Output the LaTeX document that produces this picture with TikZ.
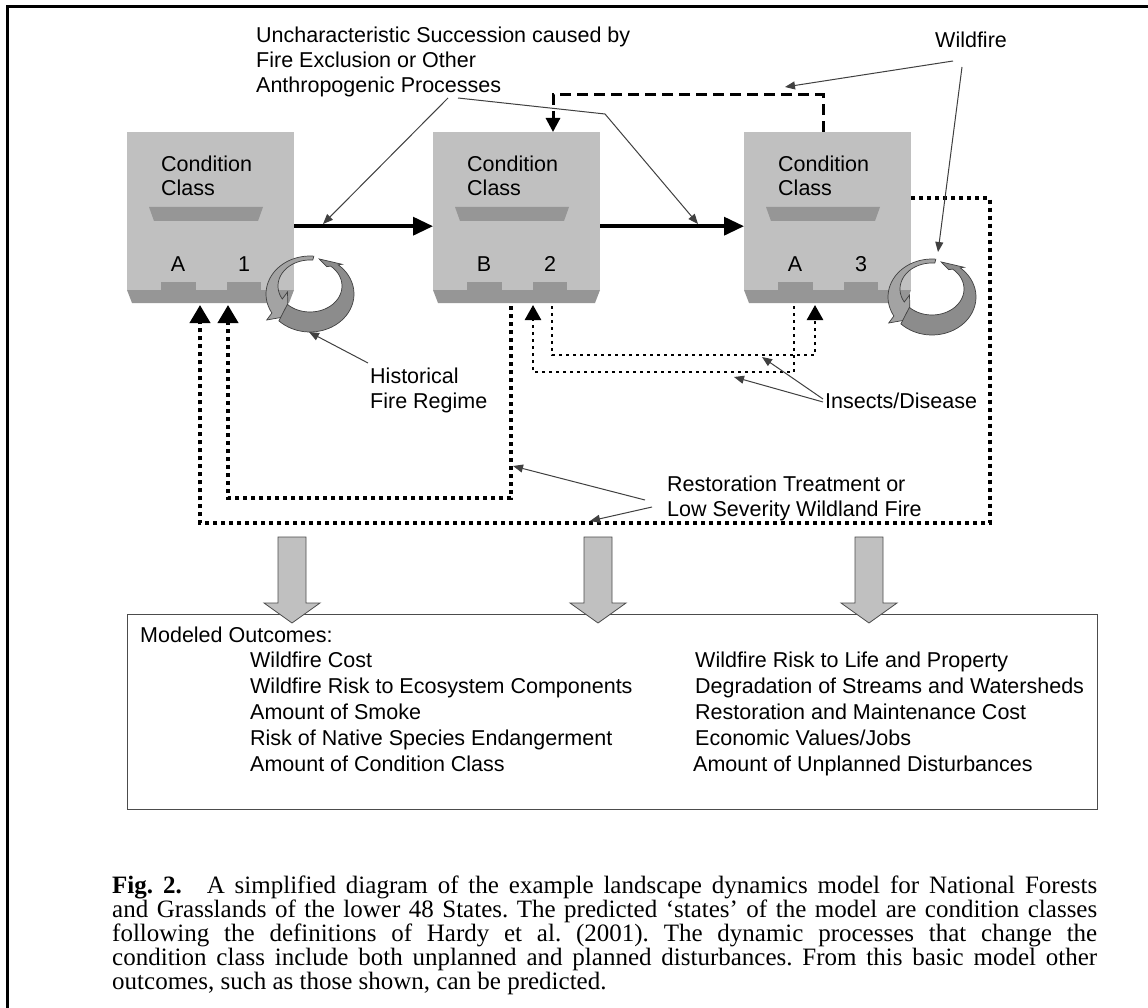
\documentclass[tikz,border=0pt]{standalone}
\usepackage{fontspec}
\setmainfont{Liberation Serif}
\newfontfamily\arialf{Liberation Sans}
\usetikzlibrary{arrows.meta}
\definecolor{boxlight}{HTML}{C0C0C0}
\definecolor{boxdark}{HTML}{969696}
\definecolor{ringA}{HTML}{8C8C8C}
\definecolor{ringB}{HTML}{A3A3A3}
\tikzset{
  lbl/.style={font=\arialf\fontsize{21.5}{25}\selectfont, inner sep=0pt},
  body/.style={fill=boxlight, draw=none, minimum width=167pt, minimum height=158pt, inner sep=0pt},
  solidarr/.style={line width=3.5pt, -{Triangle[length=20pt,width=18pt]}},
  dasharr/.style={line width=3pt, dash pattern=on 11pt off 6pt, -{Triangle[length=14pt,width=14pt]}},
  heavydot/.style={line width=4pt, dash pattern=on 4pt off 4pt, -{Triangle[length=18pt,width=20pt]}},
  finedot/.style={line width=2.6pt, dash pattern=on 2.6pt off 4.4pt, -{Triangle[length=15pt,width=16pt]}},
  leader/.style={line width=1pt, draw=black!75, -{Triangle[length=10pt,width=8pt]}},
  blockarr/.style={fill=boxlight, draw=black!70, line width=0.8pt},
  ringstyle/.style={draw=black!75, line width=0.7pt}
}
\newcommand{\ccbox}[4]{%
  \node[body, anchor=north west] (#2) at (#1,132) {};
  \coordinate (#2bot) at (#1,303);
  \fill[boxdark] (#1,290) -- ({#1+167},290) -- ({#1+162},303) -- ({#1+5},303) -- cycle;
  \fill[boxdark] ({#1+34},282) rectangle ({#1+69},290);
  \fill[boxdark] ({#1+100},282) rectangle ({#1+134},290);
  \fill[boxdark] ({#1+22},207) -- ({#1+136},207) -- ({#1+131},221) -- ({#1+27},221) -- cycle;
  \node[lbl, anchor=base west] (#2c1) at ({#1+34},172) {Condition};
  \node[lbl, anchor=base west] (#2c2) at ({#1+34},196) {Class};
  \node[lbl, anchor=base] (#2l) at ({#1+51},272) {#3};
  \node[lbl, anchor=base] (#2n) at ({#1+117},272) {#4};
}
% 3D ring arrow piece: cx, cy, start angle, end angle, tip angle, fill
\newcommand{\ringarrow}[6]{%
  \filldraw[ringstyle, fill=#6]
    plot[domain=#3:#4, samples=36, variable=\t] ({#1+44*cos(\t)},{#2+4+38*sin(\t)})
    -- ({#1+50*cos(#4)},{#2+8+44*sin(#4)})
    -- ({#1+38*cos(#5)},{#2+32*sin(#5)})
    -- ({#1+26*cos(#4)},{#2-8+20*sin(#4)})
    -- plot[domain=#4:#3, samples=36, variable=\t] ({#1+32*cos(\t)},{#2-4+26*sin(\t)})
    -- cycle;}
\newcommand{\blockarrow}[1]{%
  \filldraw[blockarr] ({#1-14},537) -- ({#1+14},537) -- ({#1+14},603) -- ({#1+28},603)
    -- (#1,623) -- ({#1-28},603) -- ({#1-14},603) -- cycle;}
\begin{document}
\begin{tikzpicture}[x=1pt, y=-1pt]
\useasboundingbox (0,0) rectangle (1148,1008);
\fill[white] (0,0) rectangle (1148,1008);
% frame
\draw[line width=3pt] (7,1008) -- (7,7) -- (1148,7);

% boxes
\ccbox{127}{b1}{A}{1}
\ccbox{433}{b2}{B}{2}
\ccbox{744}{b3}{A}{3}

% rings (counter-clockwise on the page)
\ringarrow{310}{290}{275}{150}{125}{ringB}
\ringarrow{310}{290}{135}{-50}{-76}{ringA}
\ringarrow{932}{293}{275}{150}{125}{ringB}
\ringarrow{932}{293}{135}{-50}{-76}{ringA}
\coordinate (r1bot) at (309,332);
\coordinate (r3top) at (938,252);

% main succession arrows
\draw[solidarr] ([yshift=-15pt]b1.east) -- ([yshift=-15pt]b2.west);
\draw[solidarr] ([yshift=-15pt]b2.east) -- ([yshift=-15pt]b3.west);

% wildfire dashed
\draw[dasharr] ([xshift=79pt]b3.north west) |- ([xshift=120pt,yshift=37pt]b2.north west) -- ([xshift=120pt]b2.north west);

% restoration dotted
\draw[heavydot] ([xshift=78pt,yshift=-3pt]b2bot) |- (228,498) -- ([xshift=101pt,yshift=-2pt]b1bot);
\draw[heavydot] ([yshift=13pt]b3.east) -| (990,523) -| ([xshift=73pt,yshift=-2pt]b1bot);

% insects dotted
\draw[finedot] ([xshift=119pt,yshift=-3pt]b2bot) |- (815,355) -- ([xshift=71pt,yshift=-2pt]b3bot);
\draw[finedot] ([xshift=50pt,yshift=-3pt]b3bot) |- (533,372) -- ([xshift=100pt,yshift=-2pt]b2bot);

% labels
\node[lbl, anchor=base west] (u1) at (256,43) {Uncharacteristic Succession caused by};
\node[lbl, anchor=base west] (u2) at (256,68) {Fire Exclusion or Other};
\node[lbl, anchor=base west] (u3) at (256,93) {Anthropogenic Processes};
\node[lbl, anchor=base west] (wf) at (935,48) {Wildfire};
\node[lbl, anchor=base west] (hist1) at (370,383) {Historical};
\node[lbl, anchor=base west] (hist2) at (370,408) {Fire Regime};
\node[lbl, anchor=base west] (ins) at (825,408) {Insects/Disease};
\node[lbl, anchor=base west] (rest1) at (667,491) {Restoration Treatment or};
\node[lbl, anchor=base west] (rest2) at (667,516) {Low Severity Wildland Fire};

% leader lines
\coordinate (us1) at (448,98);
\coordinate (us2) at (458,98);
\coordinate (ut1) at (323,224);
\coordinate (ut2) at (698,224);
\draw[leader] (us1) -- (ut1);
\draw[leader] (us2) -- (605,114) -- (ut2);
\coordinate (ws1) at (953,61);
\coordinate (ws2) at (962,67);
\coordinate (wt1) at (785,87);
\draw[leader] (ws1) -- (wt1);
\draw[leader] (ws2) -- (r3top);
\draw[leader] (368,363) -- (r1bot);
\coordinate (it1) at (762,357);
\coordinate (it2) at (734,377);
\draw[leader] (823,399) -- (it1);
\draw[leader] (823,402) -- (it2);
\coordinate (rt1) at (513,466);
\coordinate (rt2) at (590,521);
\draw[leader] (645,500) -- (rt1);
\draw[leader] (652,507) -- (rt2);

% outcomes box
\node[draw=black!70, line width=1pt, minimum width=970pt, minimum height=195pt, anchor=north west, inner sep=0pt] (out) at (127,614) {};
\blockarrow{292}
\blockarrow{598}
\blockarrow{869}

\node[lbl, anchor=base west] (mo) at (140,642) {Modeled Outcomes:};
\node[lbl, anchor=base west] (o1) at (250,667) {Wildfire Cost};
\node[lbl, anchor=base west] (o2) at (250,693) {Wildfire Risk to Ecosystem Components};
\node[lbl, anchor=base west] (o3) at (250,719) {Amount of Smoke};
\node[lbl, anchor=base west] (o4) at (250,745) {Risk of Native Species Endangerment};
\node[lbl, anchor=base west] (o5) at (250,771) {Amount of Condition Class};
\node[lbl, anchor=base west] (o6) at (695,667) {Wildfire Risk to Life and Property};
\node[lbl, anchor=base west] (o7) at (695,693) {Degradation of Streams and Watersheds};
\node[lbl, anchor=base west] (o8) at (695,719) {Restoration and Maintenance Cost};
\node[lbl, anchor=base west] (o9) at (695,745) {Economic Values/Jobs};
\node[lbl, anchor=base west] (o10) at (693,771) {Amount of Unplanned Disturbances};

% caption
\node[anchor=north west, text width=985pt, align=justify, inner sep=0pt,
      font=\fontsize{25}{24}\selectfont\frenchspacing] (cap) at (112,876)
 {\textbf{Fig. 2.}\hspace{1em}A simplified diagram of the example landscape dynamics model for National Forests\linebreak
  and Grasslands of the lower 48 States. The predicted ‘states’ of the model are condition classes\linebreak
  following the definitions of Hardy et al. (2001). The dynamic processes that change the\linebreak
  condition class include both unplanned and planned disturbances. From this basic model other\linebreak
  outcomes, such as those shown, can be predicted.};
\end{tikzpicture}
\end{document}
